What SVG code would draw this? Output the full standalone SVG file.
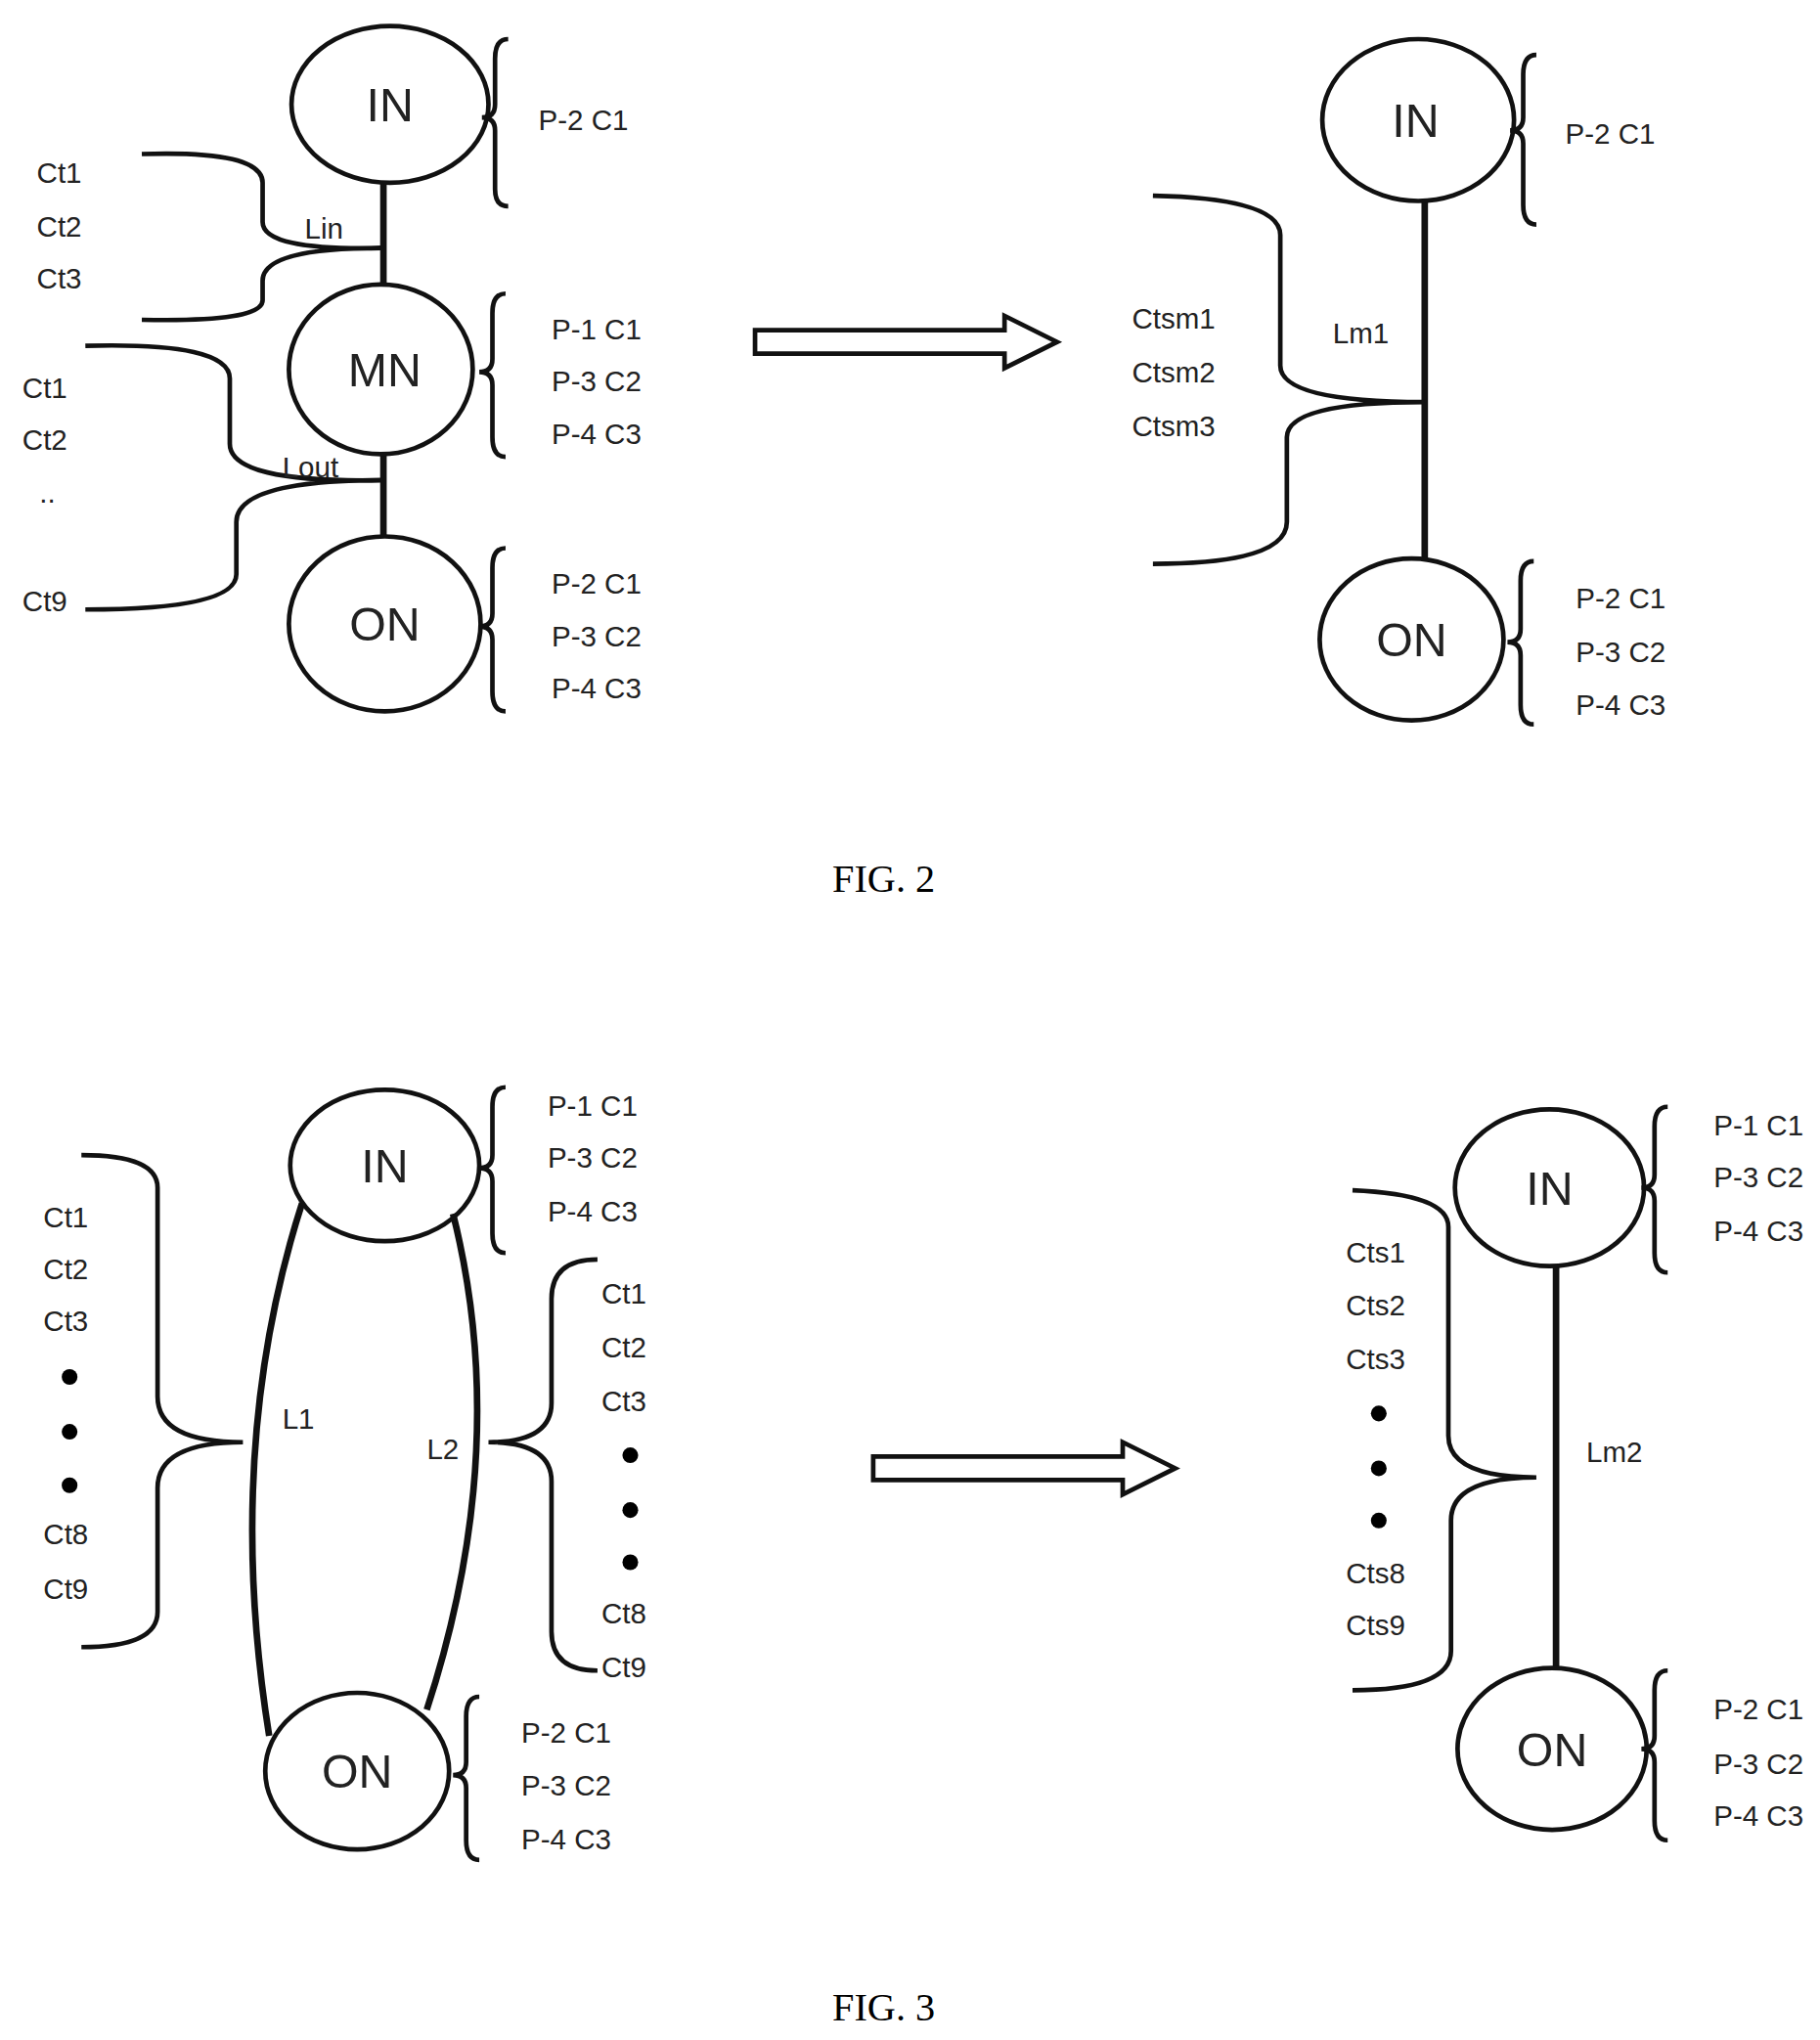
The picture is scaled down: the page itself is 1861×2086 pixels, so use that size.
<svg xmlns="http://www.w3.org/2000/svg" width="1861" height="2086" viewBox="0 0 1861 2086">
<style>
.n{fill:none;stroke:#111;stroke-width:3.5}
.c{fill:none;stroke:#111;stroke-width:5}
.b{fill:none;stroke:#111;stroke-width:3.5}
.t{font-family:"Liberation Sans",Arial,sans-serif;font-size:22px;fill:#222}
.big{font-family:"Liberation Sans",Arial,sans-serif;font-size:36px;fill:#222;text-anchor:middle}
.fig{font-family:"Liberation Serif","Times New Roman",serif;font-size:30px;fill:#000;text-anchor:middle}
.ar{fill:#fff;stroke:#111;stroke-width:3.5}
</style>
<rect width="1861" height="2086" fill="#fff"/>
<g transform="scale(1.3427,1.3346)">
<g id="connectors">
<path class="c" d="M292 140V218M292 348V411"/>
<path class="c" d="M1085 154V428"/>
<path class="c" d="M230 922Q170 1110 205 1330"/>
<path class="c" d="M345 930Q390 1110 325 1310"/>
<path class="c" d="M1185 970V1278"/>
<path class="b" d="M108 118Q200 115 200 140V170Q200 192 290 190Q200 190 200 215V230Q200 247 108 245"/>
<path class="b" d="M65 265Q175 262 175 290V340Q175 370 290 368Q180 368 180 400V440Q180 467 65 467"/>
<path class="b" d="M878 150Q975 152 975 180V280Q975 308 1085 308Q980 308 980 335V400Q980 432 878 432"/>
<path class="b" d="M62 885Q120 885 120 910V1070Q120 1105 185 1105Q120 1105 120 1140V1235Q120 1262 62 1262"/>
<path class="b" d="M455 965Q420 965 420 995V1075Q420 1105 372 1105Q420 1105 420 1135V1250Q420 1280 455 1280"/>
<path class="b" d="M1030 912Q1103 915 1103 940V1100Q1103 1132 1170 1132Q1105 1132 1105 1165V1265Q1105 1295 1030 1295"/>
</g>
<g id="braces">
<path class="b" d="M387 30Q377 30 377 45V80Q377 90 367 90Q377 90 377 100V145Q377 158 387 158"/>
<path class="b" d="M385 225Q375 225 375 240V275Q375 285 365 285Q375 285 375 295V335Q375 350 385 350"/>
<path class="b" d="M385 420Q375 420 375 435V470Q375 480 365 480Q375 480 375 490V530Q375 545 385 545"/>
<path class="b" d="M1170 42Q1160 42 1160 57V90Q1160 100 1150 100Q1160 100 1160 110V157Q1160 172 1170 172"/>
<path class="b" d="M1168 430Q1158 430 1158 445V482Q1158 492 1148 492Q1158 492 1158 502V540Q1158 555 1168 555"/>
<path class="b" d="M385 833Q375 833 375 848V885Q375 895 365 895Q375 895 375 905V945Q375 960 385 960"/>
<path class="b" d="M365 1300Q355 1300 355 1315V1350Q355 1360 345 1360Q355 1360 355 1370V1410Q355 1425 365 1425"/>
<path class="b" d="M1270 848Q1260 848 1260 863V900Q1260 910 1250 910Q1260 910 1260 920V960Q1260 975 1270 975"/>
<path class="b" d="M1270 1280Q1260 1280 1260 1295V1330Q1260 1340 1250 1340Q1260 1340 1260 1350V1395Q1260 1410 1270 1410"/>
</g>
<g id="arrows">
<path class="ar" d="M575 253H765V242L805 262L765 282V271H575Z"/>
<path class="ar" d="M665 1116H855V1105L895 1125L855 1145V1134H665Z"/>
</g>
<g id="f2-IN"><ellipse class="n" cx="297" cy="80" rx="75" ry="60"/><text class="big" x="297" y="93">IN</text></g>
<g id="f2-MN"><ellipse class="n" cx="290" cy="283" rx="70" ry="65"/><text class="big" x="293" y="296">MN</text></g>
<g id="f2-ON"><ellipse class="n" cx="293" cy="478" rx="73" ry="67"/><text class="big" x="293" y="491">ON</text></g>
<g id="f2r-IN"><ellipse class="n" cx="1080" cy="92" rx="73" ry="62"/><text class="big" x="1078" y="105">IN</text></g>
<g id="f2r-ON"><ellipse class="n" cx="1075" cy="490" rx="70" ry="62"/><text class="big" x="1075" y="503">ON</text></g>
<g id="f3-IN"><ellipse class="n" cx="293" cy="893" rx="72" ry="58"/><text class="big" x="293" y="906">IN</text></g>
<g id="f3-ON"><ellipse class="n" cx="272" cy="1357" rx="70" ry="60"/><text class="big" x="272" y="1370">ON</text></g>
<g id="f3r-IN"><ellipse class="n" cx="1180" cy="910" rx="72" ry="60"/><text class="big" x="1180" y="923">IN</text></g>
<g id="f3r-ON"><ellipse class="n" cx="1182" cy="1340" rx="72" ry="62"/><text class="big" x="1182" y="1353">ON</text></g>
<g id="labels">
<text class="t" x="410" y="100">P-2 C1</text>
<text class="t" x="420" y="260">P-1 C1</text><text class="t" x="420" y="300">P-3 C2</text><text class="t" x="420" y="340">P-4 C3</text>
<text class="t" x="420" y="455">P-2 C1</text><text class="t" x="420" y="495">P-3 C2</text><text class="t" x="420" y="535">P-4 C3</text>
<text class="t" x="28" y="140">Ct1</text><text class="t" x="28" y="181">Ct2</text><text class="t" x="28" y="221">Ct3</text>
<text class="t" x="232" y="183">Lin</text>
<text class="t" x="17" y="305">Ct1</text><text class="t" x="17" y="345">Ct2</text><text class="t" x="30" y="385">..</text><text class="t" x="17" y="468">Ct9</text>
<text class="t" x="215" y="366">Lout</text>
<text class="t" x="1192" y="110">P-2 C1</text>
<text class="t" x="1200" y="466">P-2 C1</text><text class="t" x="1200" y="507">P-3 C2</text><text class="t" x="1200" y="548">P-4 C3</text>
<text class="t" x="1015" y="263">Lm1</text>
<text class="t" x="862" y="252">Ctsm1</text><text class="t" x="862" y="293">Ctsm2</text><text class="t" x="862" y="334">Ctsm3</text>
<text class="fig" x="673" y="683">FIG. 2</text>
<text class="t" x="417" y="855">P-1 C1</text><text class="t" x="417" y="895">P-3 C2</text><text class="t" x="417" y="936">P-4 C3</text>
<text class="t" x="33" y="940">Ct1</text><text class="t" x="33" y="980">Ct2</text><text class="t" x="33" y="1020">Ct3</text>
<circle cx="53" cy="1055" r="6"/><circle cx="53" cy="1097" r="6"/><circle cx="53" cy="1138" r="6"/>
<text class="t" x="33" y="1183">Ct8</text><text class="t" x="33" y="1225">Ct9</text>
<text class="t" x="215" y="1095">L1</text><text class="t" x="325" y="1118">L2</text>
<text class="t" x="458" y="999">Ct1</text><text class="t" x="458" y="1040">Ct2</text><text class="t" x="458" y="1081">Ct3</text>
<circle cx="480" cy="1115" r="6"/><circle cx="480" cy="1157" r="6"/><circle cx="480" cy="1197" r="6"/>
<text class="t" x="458" y="1244">Ct8</text><text class="t" x="458" y="1285">Ct9</text>
<text class="t" x="397" y="1335">P-2 C1</text><text class="t" x="397" y="1376">P-3 C2</text><text class="t" x="397" y="1417">P-4 C3</text>
<text class="t" x="1305" y="870">P-1 C1</text><text class="t" x="1305" y="910">P-3 C2</text><text class="t" x="1305" y="951">P-4 C3</text>
<text class="t" x="1025" y="967">Cts1</text><text class="t" x="1025" y="1008">Cts2</text><text class="t" x="1025" y="1049">Cts3</text>
<circle cx="1050" cy="1083" r="6"/><circle cx="1050" cy="1125" r="6"/><circle cx="1050" cy="1165" r="6"/>
<text class="t" x="1025" y="1213">Cts8</text><text class="t" x="1025" y="1253">Cts9</text>
<text class="t" x="1208" y="1120">Lm2</text>
<text class="t" x="1305" y="1317">P-2 C1</text><text class="t" x="1305" y="1359">P-3 C2</text><text class="t" x="1305" y="1399">P-4 C3</text>
<text class="fig" x="673" y="1548">FIG. 3</text>
</g>
</g>
</svg>
